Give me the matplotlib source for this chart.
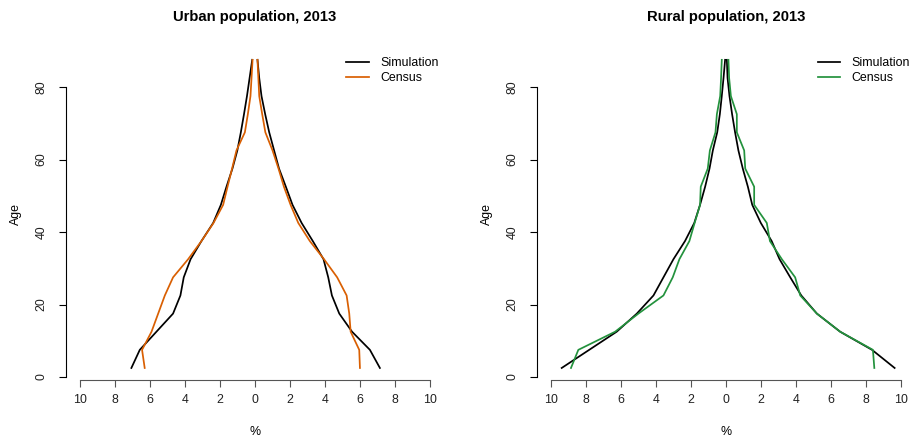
import matplotlib
matplotlib.use("Agg")
import matplotlib.pyplot as plt

plt.rcParams['font.family'] = ['Liberation Sans', 'DejaVu Sans']

ages = [2.5, 7.5, 12.5, 17.5, 22.5, 27.5, 32.5, 37.5, 42.5,
        47.5, 52.5, 57.5, 62.5, 67.5, 72.5, 77.5, 82.5, 87.5]

# percentages, left half of the pyramid / right half
urban_sim_left = [7.05, 6.57, 5.62, 4.67, 4.25, 4.06, 3.67, 3.05, 2.38,
                  1.94, 1.62, 1.28, 1.00, 0.80, 0.62, 0.45, 0.30, 0.15]
urban_sim_right = [7.14, 6.57, 5.55, 4.82, 4.40, 4.19, 3.92, 3.31, 2.67,
                   2.15, 1.77, 1.38, 1.10, 0.82, 0.59, 0.38, 0.25, 0.15]
urban_cen_left = [6.29, 6.44, 5.90, 5.52, 5.14, 4.67, 3.81, 3.05, 2.36,
                  1.81, 1.56, 1.30, 1.05, 0.57, 0.40, 0.25, 0.19, 0.13]
urban_cen_right = [6.00, 5.96, 5.47, 5.39, 5.24, 4.70, 3.95, 3.14, 2.48,
                   2.04, 1.66, 1.35, 1.01, 0.60, 0.42, 0.25, 0.20, 0.15]

rural_sim_left = [9.39, 7.82, 6.25, 5.10, 4.15, 3.58, 3.01, 2.35, 1.82,
                  1.49, 1.20, 0.95, 0.76, 0.51, 0.36, 0.25, 0.15, 0.06]
rural_sim_right = [9.62, 8.33, 6.51, 5.18, 4.29, 3.66, 3.05, 2.60, 1.98,
                   1.49, 1.24, 0.95, 0.70, 0.51, 0.34, 0.19, 0.08, 0.04]
rural_cen_left = [8.86, 8.44, 6.34, 5.01, 3.58, 3.05, 2.67, 2.10, 1.80,
                  1.49, 1.45, 1.05, 0.93, 0.61, 0.53, 0.34, 0.29, 0.25]
rural_cen_right = [8.46, 8.38, 6.51, 5.18, 4.23, 3.94, 3.18, 2.50, 2.32,
                   1.60, 1.60, 1.09, 1.03, 0.61, 0.61, 0.27, 0.17, 0.13]

xticks = [-10, -8, -6, -4, -2, 0, 2, 4, 6, 8, 10]
yticks = [0, 20, 40, 60, 80]

W, H = 910, 437
fig = plt.figure(figsize=(W / 100, H / 100), dpi=100)


def panel(x0, title, sim_l, sim_r, cen_l, cen_r, cen_color):
    ax = fig.add_axes([x0 / W, (H - 380.3) / H, 378.3 / W, (380.3 - 47.5) / H])
    ax.plot([-v for v in sim_l], ages, color='black', lw=1.25, label='Simulation')
    ax.plot(sim_r, ages, color='black', lw=1.25)
    ax.plot([-v for v in cen_l], ages, color=cen_color, lw=1.25, label='Census')
    ax.plot(cen_r, ages, color=cen_color, lw=1.25)
    ax.set_xlim(-10.8, 10.8)
    ax.set_ylim(-0.9, 90.9)
    for s in ['top', 'right']:
        ax.spines[s].set_visible(False)
    ax.spines['left'].set_bounds(0, 80)
    ax.spines['bottom'].set_bounds(-10, 10)
    ax.spines['bottom'].set_color('#555555')
    ax.spines['left'].set_linewidth(0.8)
    ax.spines['bottom'].set_linewidth(0.8)
    ax.set_xticks(xticks)
    ax.set_xticklabels([str(abs(t)) for t in xticks])
    ax.set_yticks(yticks)
    ax.set_yticklabels([str(t) for t in yticks], rotation=90, va='center')
    ax.tick_params(axis='x', direction='out', length=5.2, width=0.8,
                   color='#555555', labelsize=8.9, labelcolor='#222222', pad=5)
    ax.tick_params(axis='y', direction='out', length=5.2, width=0.8,
                   labelsize=8.9, labelcolor='#222222', pad=8)
    cx = (x0 + 378.3 / 2) / W
    fig.text(cx, 1 - 17 / H, title, ha='center', va='center',
             fontsize=10.7, fontweight='bold')
    fig.text(cx, 1 - 432 / H, '%', ha='center', va='center', fontsize=8.9)
    fig.text((x0 - 50) / W, 1 - 214 / H, 'Age', ha='center', va='center',
             rotation=90, fontsize=8.9)
    ax.legend(loc='upper left', bbox_to_anchor=((x0 + 280.5) / W, 1 - 57.5 / H),
              bbox_transform=fig.transFigure, frameon=False, fontsize=8.9,
              handlelength=1.85, handletextpad=0.9, labelspacing=0.2,
              borderpad=0, borderaxespad=0)
    return ax


panel(65.7, 'Urban population, 2013', urban_sim_left, urban_sim_right,
      urban_cen_left, urban_cen_right, '#D95F02')
panel(537.0, 'Rural population, 2013', rural_sim_left, rural_sim_right,
      rural_cen_left, rural_cen_right, '#23923D')

fig.savefig('out.png', dpi=100)
